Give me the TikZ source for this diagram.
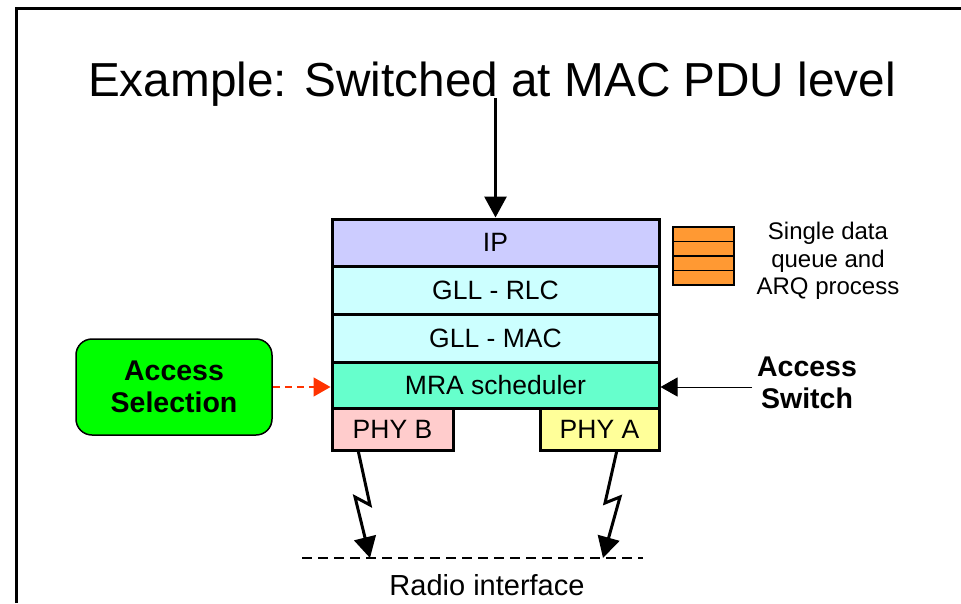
\documentclass[tikz,border=0pt]{standalone}
\usepackage{fontspec}
\setmainfont{Liberation Sans}
\usetikzlibrary{arrows.meta}
\definecolor{ipcol}{RGB}{204,204,255}
\definecolor{gllcol}{RGB}{204,255,255}
\definecolor{mracol}{RGB}{102,255,204}
\definecolor{phybcol}{RGB}{255,204,204}
\definecolor{phyacol}{RGB}{255,255,153}
\definecolor{queuecol}{RGB}{255,153,51}
\definecolor{selcol}{RGB}{0,255,0}
\definecolor{redarrow}{RGB}{255,51,0}
\begin{document}
\begin{tikzpicture}[x=1pt,y=-1pt,
  layer/.style={draw,line width=3pt,minimum width=327pt,inner sep=0pt,
    font=\fontsize{26.5}{30}\selectfont},
  phybox/.style={draw,line width=3pt,inner sep=0pt,minimum height=42pt,
    font=\fontsize{26.5}{30}\selectfont},
  boldlabel/.style={align=center,font=\bfseries\fontsize{28.5}{32}\selectfont,inner sep=0pt},
  bigtip/.style={-{Triangle[length=21pt,width=22pt]}},
  midtip/.style={-{Triangle[length=17pt,width=19pt]}},
  qcell/.style={draw,line width=1.2pt,fill=queuecol}]
\useasboundingbox (0,0) rectangle (961,603);
% frame
\draw[line width=3pt] (16,603) -- (16,8) -- (961,8);
% title
\node[font=\fontsize{47.7}{50}\selectfont,anchor=base,inner sep=0pt] (title) at (492,96) {Example: Switched at MAC PDU level};
% stack
\node[layer,fill=ipcol,minimum height=47pt] (ip) at (495.5,242.5) {IP};
\node[layer,fill=gllcol,minimum height=48pt] (rlc) at (495.5,290) {GLL - RLC};
\node[layer,fill=gllcol,minimum height=48pt] (mac) at (495.5,338) {GLL - MAC};
\node[layer,fill=mracol,minimum height=46pt] (mra) at (495.5,385) {MRA scheduler};
\node[phybox,fill=phybcol,minimum width=121pt] (phyb) at (392.5,429) {PHY B};
\node[phybox,fill=phyacol,minimum width=119pt] (phya) at (599.5,429) {PHY A};
% input arrow
\coordinate (in) at (495.5,98);
\draw[line width=3pt,bigtip] (in) -- (ip.north);
% queue
\foreach \i in {0,1,2,3} {
  \draw[qcell] (673,{227+14.5*\i}) rectangle (734,{227+14.5*(\i+1)});
}
\node[align=center,font=\fontsize{24}{27.5}\selectfont,inner sep=0pt] (qtext) at (828,261) {Single data\\queue and\\ARQ process};
% access selection
\node[draw,line width=1.5pt,fill=selcol,rounded corners=16pt,minimum width=196pt,minimum height=96pt,boldlabel] (sel) at (174,387) {Access\\Selection};
\draw[redarrow,line width=1.5pt,dash pattern=on 7pt off 5pt,midtip] (sel.east) -- (sel.east -| mra.west);
% access switch
\node[boldlabel] (sw) at (807,383) {Access\\Switch};
\coordinate (swst) at (752,387);
\draw[line width=1pt,midtip] (swst) -- (swst -| mra.east);
% radio interface
\coordinate (rl) at (302,558);
\coordinate (rr) at (643,558);
\draw[line width=1.5pt,dash pattern=on 10pt off 6pt] (rl) -- (rr);
\node[font=\fontsize{29}{32}\selectfont,inner sep=0pt] (radio) at (487,585) {Radio interface};
% lightning bolts
\coordinate (bk1) at (370,505);
\coordinate (bk2) at (355,497);
\coordinate (btip) at (370,558);
\draw[line width=3pt,bigtip,line join=miter] (358,450) -- (bk1) -- (bk2) -- (btip);
\coordinate (ak1) at (605,503);
\coordinate (ak2) at (620,497);
\coordinate (atip) at (603,558);
\draw[line width=3pt,bigtip,line join=miter] (617,450) -- (ak1) -- (ak2) -- (atip);
\end{tikzpicture}
\end{document}
